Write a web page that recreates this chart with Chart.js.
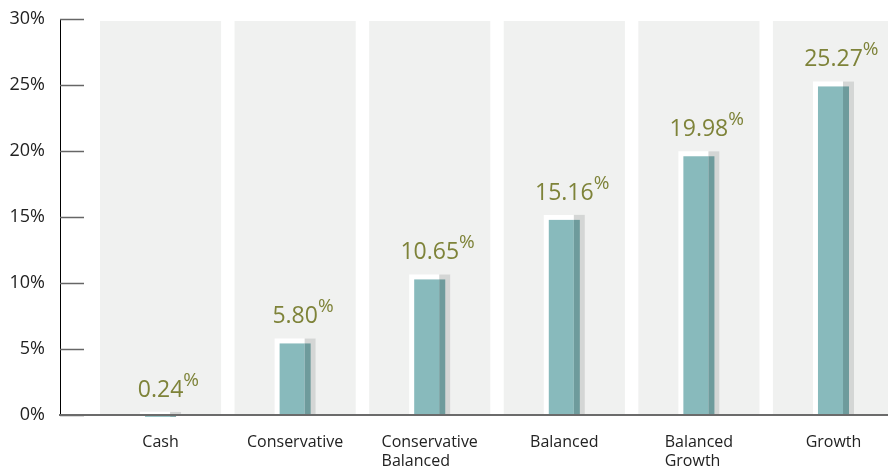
<!DOCTYPE html>
<html>
<head>
<meta charset="utf-8">
<script src="https://cdn.jsdelivr.net/npm/chart.js@4.4.0/dist/chart.umd.min.js"></script>
<style>
  body { margin: 0; background: #fff; }
  #wrap { width: 888px; height: 471px; }
</style>
</head>
<body>
<div id="wrap"><canvas id="returns-chart"></canvas></div>
<script>
// portfolio categories and returns (%)
var categories = [["Cash"], ["Conservative"], ["Conservative", "Balanced"], ["Balanced"], ["Balanced", "Growth"], ["Growth"]];
var returns = [0.24, 5.80, 10.65, 15.16, 19.98, 25.27];
var yTicks = [0, 5, 10, 15, 20, 25, 30];

var FONT = '"Open Sans", "Noto Sans", sans-serif';

// grey column panels behind each category + short tick marks on the y axis
var backdrop = {
  id: 'backdrop',
  beforeDatasetsDraw: function(chart) {
    var ctx = chart.ctx, x = chart.scales.x, y = chart.scales.y, area = chart.chartArea;
    ctx.save();
    ctx.beginPath();
    ctx.rect(area.left, area.top, area.right - area.left, area.bottom - area.top);
    ctx.clip();
    ctx.fillStyle = '#f0f1f0';
    categories.forEach(function(c, i) {
      var l = x.getPixelForValue(i - 0.45), r = x.getPixelForValue(i + 0.45);
      ctx.fillRect(l, area.top + 2, r - l, area.bottom - area.top - 2);
    });
    ctx.restore();

    ctx.save();
    ctx.strokeStyle = '#666';
    ctx.lineWidth = 1.5;
    yTicks.forEach(function(v) {
      var py = Math.round(y.getPixelForValue(v)) + 0.5;
      ctx.beginPath();
      ctx.moveTo(area.left, py);
      ctx.lineTo(area.left + 24, py);
      ctx.stroke();
    });
    ctx.restore();
  }
};

// shaded "block" look on each bar, value labels and x labels
var decorate = {
  id: 'decorate',
  afterDatasetsDraw: function(chart) {
    var ctx = chart.ctx, meta = chart.getDatasetMeta(0), x = chart.scales.x, area = chart.chartArea;
    ctx.save();
    meta.data.forEach(function(bar, i) {
      var p = bar.getProps(['x', 'y', 'base', 'width'], true);
      var l = p.x - p.width / 2, r = p.x + p.width / 2;
      ctx.fillStyle = '#d4d6d5';
      ctx.fillRect(r - 11, p.y, 11, p.base - p.y);
      ctx.fillStyle = '#88babc';
      ctx.fillRect(l + 5, p.y + 5, (r - 11) - (l + 5), p.base - p.y - 5);
      ctx.fillStyle = '#6e9b9c';
      ctx.fillRect(r - 11, p.y + 5, 6, p.base - p.y - 5);

      // value label with superscript %
      var txt = returns[i].toFixed(2);
      ctx.font = '23px ' + FONT;
      ctx.fillStyle = '#7e8339';
      ctx.textAlign = 'center';
      ctx.textBaseline = 'alphabetic';
      var w = ctx.measureText(txt).width;
      ctx.fillText(txt, p.x, p.y - 15);
      ctx.font = '19px ' + FONT;
      ctx.textAlign = 'left';
      ctx.fillText('%', p.x + w / 2, p.y - 26);
    });

    // category labels: block centred, lines left aligned
    ctx.font = '16px ' + FONT;
    ctx.fillStyle = '#222';
    ctx.textBaseline = 'top';
    ctx.textAlign = 'left';
    categories.forEach(function(lines, i) {
      var cx = x.getPixelForValue(i);
      var maxW = 0;
      lines.forEach(function(s) { maxW = Math.max(maxW, ctx.measureText(s).width); });
      lines.forEach(function(s, k) {
        ctx.fillText(s, cx - maxW / 2, area.bottom + 19 + k * 19);
      });
    });
    ctx.restore();
  }
};

new Chart(document.getElementById("returns-chart"), {
    type: 'bar',
    data: {
      datasets: [
        {
          label: "Return",
          data: returns.map(function(v, i) { return { x: i, y: v }; }),
          backgroundColor: '#ffffff',
          borderWidth: 0,
          barPercentage: 0.305,
          categoryPercentage: 1
        }
      ]
    },
    options: {
      responsive: true,
      maintainAspectRatio: false,
      animation: false,
      layout: { padding: { top: 19, right: 0, left: 0, bottom: 0 } },
      plugins: { legend: { display: false }, tooltip: { enabled: false } },
      scales: {
        x: {
          type: 'linear',
          offset: false,
          min: -0.747,
          max: 5.405,
          afterBuildTicks: function(s) { s.ticks = categories.map(function(c, i) { return { value: i }; }); },
          ticks: { display: false },
          grid: { display: false },
          border: { display: true, color: '#6b6b6b', width: 2, z: 1 },
          afterFit: function(s) { s.height = 56; }
        },
        y: {
          min: 0,
          max: 30,
          afterBuildTicks: function(s) { s.ticks = yTicks.map(function(v) { return { value: v }; }); },
          ticks: {
            padding: 15,
            color: '#222',
            font: { family: FONT, size: 18 },
            callback: function(v) { return v + '%'; }
          },
          grid: { drawOnChartArea: false, drawTicks: false },
          border: { display: true, color: '#000', width: 1 },
          afterFit: function(s) { s.width = 60; s.paddingTop = 0; s.paddingBottom = 0; }
        }
      }
    },
    plugins: [backdrop, decorate]
});
</script>
</body>
</html>
